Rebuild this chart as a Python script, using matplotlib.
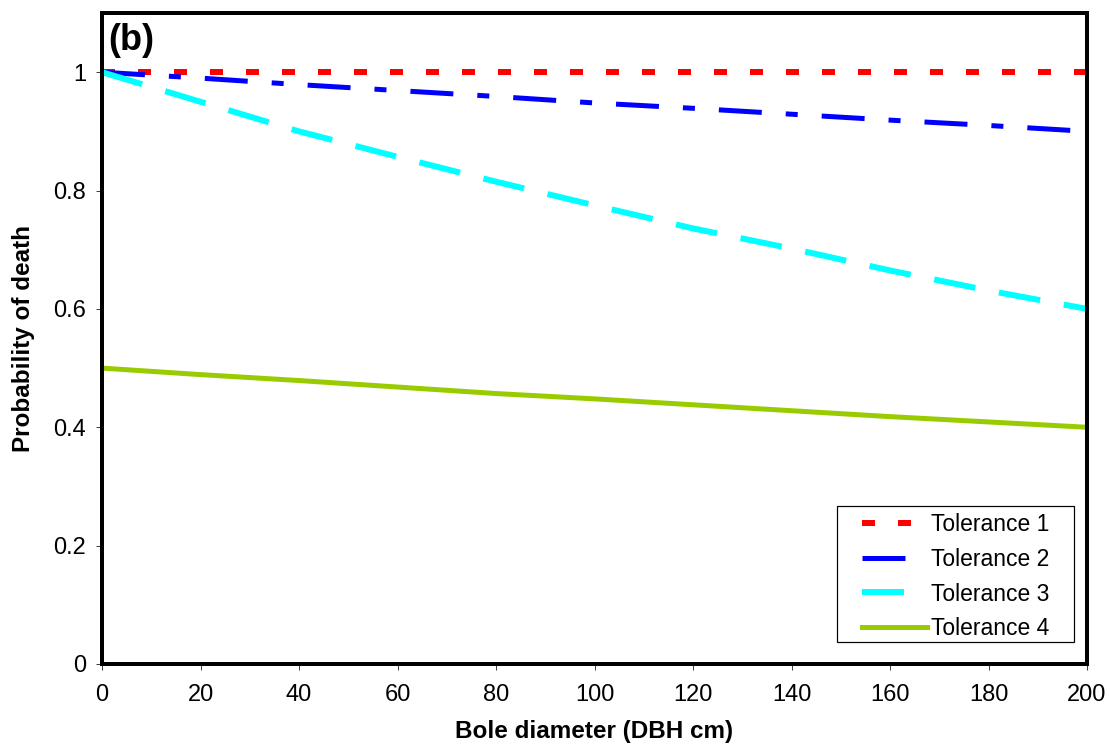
#!/usr/bin/env python3
"""
Probability of death vs bole diameter, panel (b).
"""

import matplotlib

matplotlib.use("Agg")
import matplotlib.pyplot as plt
from matplotlib.patches import Rectangle

dbh = [0, 20, 40, 60, 80, 100, 120, 140, 160, 180, 200]
tol1 = [1.0, 1.0, 1.0, 1.0, 1.0, 1.0, 1.0, 1.0, 1.0, 1.0, 1.0]
tol2 = [1.0, 0.990, 0.979, 0.969, 0.959, 0.948, 0.939, 0.929, 0.919, 0.910, 0.900]
tol3 = [1.0, 0.950, 0.900, 0.857, 0.815, 0.775, 0.736, 0.702, 0.665, 0.631, 0.600]
tol4 = [0.500, 0.489, 0.479, 0.468, 0.457, 0.448, 0.438, 0.428, 0.418, 0.409, 0.400]
labels = ["Tolerance 1", "Tolerance 2", "Tolerance 3", "Tolerance 4"]
yticks = [0, 0.2, 0.4, 0.6, 0.8, 1.0]
ytick_labels = ["0", "0.2", "0.4", "0.6", "0.8", "1"]
xticks = [0, 20, 40, 60, 80, 100, 120, 140, 160, 180, 200]

PX = 0.72  # one pixel at dpi 100, in points

plt.rcParams["font.family"] = ["Liberation Sans", "DejaVu Sans"]
plt.rcParams["lines.scale_dashes"] = False

fig = plt.figure(figsize=(11.1, 7.48), dpi=100)
ax = fig.add_axes([0.0919, 0.1123, 0.8874, 0.8703])

ax.plot(dbh, tol1, color="#ff0000", lw=6 * PX, dashes=(13 * PX, 23 * PX), label=labels[0])
ax.plot(dbh, tol2, color="#0000ff", lw=5 * PX,
        dashes=(43 * PX, 24 * PX, 12 * PX, 24 * PX), label=labels[1])
ax.plot(dbh, tol3, color="#00ffff", lw=6 * PX, dashes=(42 * PX, 24 * PX), label=labels[2])
ax.plot(dbh, tol4, color="#99cc00", lw=5 * PX, label=labels[3])

ax.set_xlim(0, 200)
ax.set_ylim(0, 1.1)
ax.set_xticks(xticks)
ax.set_yticks(yticks)
ax.set_yticklabels(ytick_labels)
ax.tick_params(axis="both", direction="out", length=6 * PX, width=1 * PX,
               color="#404040", labelsize=17)
ax.tick_params(axis="x", pad=10)
ax.tick_params(axis="y", pad=7)
for sp in ax.spines.values():
    sp.set_linewidth(4 * PX)
    sp.set_color("black")

ax.set_xlabel("Bole diameter (DBH cm)", fontsize=17.5, fontweight="bold", labelpad=10)
ax.set_ylabel("Probability of death", fontsize=17.5, fontweight="bold")
ax.yaxis.set_label_coords(-0.068, 0.5)

ax.text(0.006, 0.985, "(b)", transform=ax.transAxes, fontsize=26,
        fontweight="bold", va="top", ha="left")

# legend without its own frame; the box is drawn separately to match the wide padding
leg = ax.legend(loc="upper left", bbox_to_anchor=(0.765, 0.243), fontsize=16.5,
                frameon=False, handlelength=2.8, handletextpad=0.2,
                labelspacing=0.52, borderpad=0.3, borderaxespad=0)
ax.add_patch(Rectangle((0.7462, 0.0338), 0.2406, 0.2089, transform=ax.transAxes,
                       facecolor="white", edgecolor="black", lw=1.2 * PX, zorder=4))
leg.set_zorder(5)

fig.savefig("out.png", dpi=100)
